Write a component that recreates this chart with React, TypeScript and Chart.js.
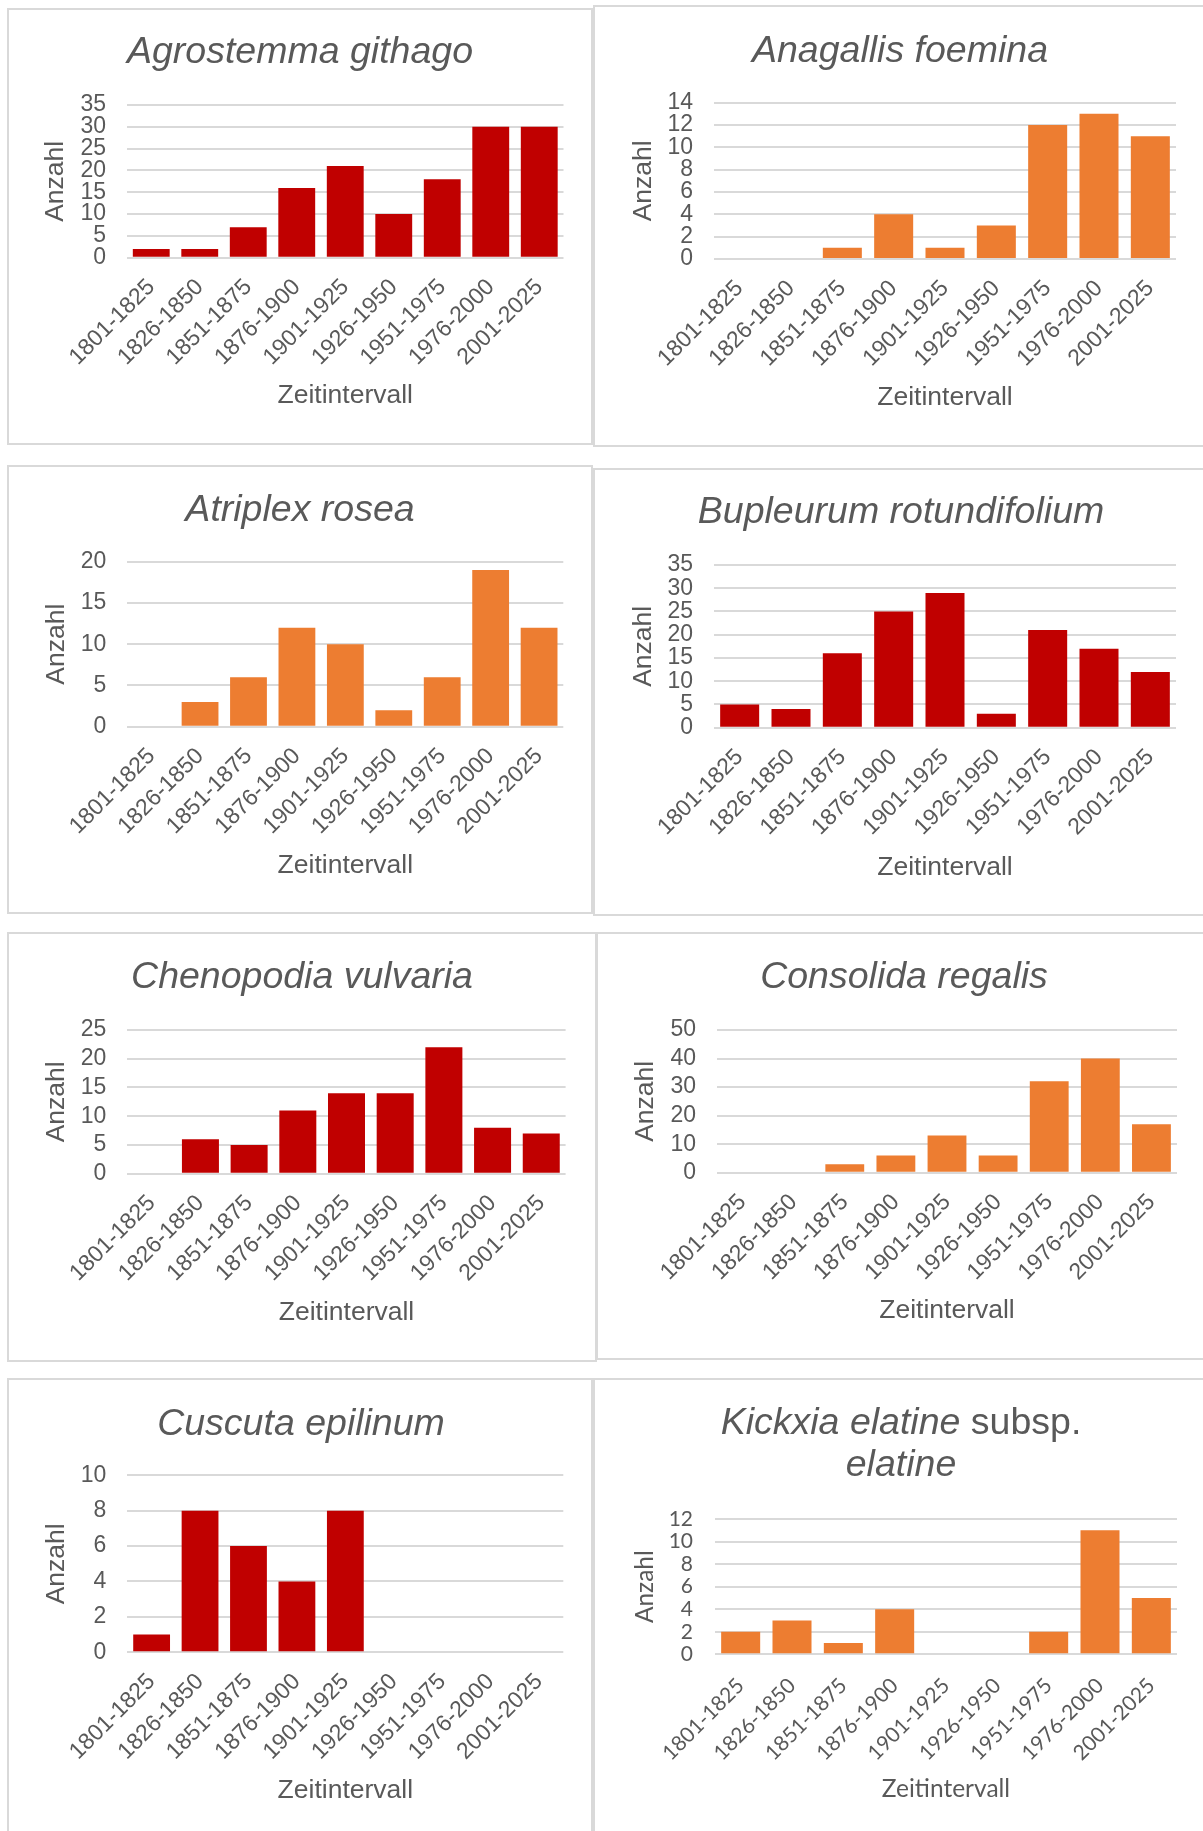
import React, { useEffect, useRef } from "react";
import { Chart, registerables } from "chart.js";

Chart.register(...registerables);

// ---------- data ----------
const CATEGORIES = [
  "1801-1825",
  "1826-1850",
  "1851-1875",
  "1876-1900",
  "1901-1925",
  "1926-1950",
  "1951-1975",
  "1976-2000",
  "2001-2025",
];

const AGROSTEMMA_GITHAGO = [2, 2, 7, 16, 21, 10, 18, 30, 30];
const ANAGALLIS_FOEMINA = [0, 0, 1, 4, 1, 3, 12, 13, 11];
const ATRIPLEX_ROSEA = [0, 3, 6, 12, 10, 2, 6, 19, 12];
const BUPLEURUM_ROTUNDIFOLIUM = [5, 4, 16, 25, 29, 3, 21, 17, 12];
const CHENOPODIA_VULVARIA = [0, 6, 5, 11, 14, 14, 22, 8, 7];
const CONSOLIDA_REGALIS = [0, 0, 3, 6, 13, 6, 32, 40, 17];
const CUSCUTA_EPILINUM = [1, 8, 6, 4, 8, 0, 0, 0, 0];
const KICKXIA_ELATINE = [2, 3, 1, 4, 0, 0, 2, 11, 5];

const Y_AXIS_TITLE = "Anzahl";
const X_AXIS_TITLE = "Zeitintervall";

// ---------- styles ----------
const RED = "#C00000";
const ORANGE = "#ED7D31";
const TEXT = "#595959";
const GRID = "#D9D9D9";
const BORDER = "#D9D9D9";
const ARIAL = "'Liberation Sans', Arial, sans-serif";
const CALIBRI_LIKE = "Lato, 'Liberation Sans', sans-serif";

type Seg = { text: string; italic: boolean };
type Spec = {
  titleLines: Seg[][];
  values: number[];
  color: string;
  yMax: number;
  yStep: number;
  box: { x: number; y: number; w: number; h: number };
  plot: { left: number; right: number; top: number; axis: number };
  titleX: number;
  titleBaselines: number[];
  zeitY: number;
  anzahlX: number;
  family: string;
  tickSize: number;
  axisSize: number;
  xPad: number;
  yPad: number;
};

const base = {
  family: ARIAL,
  tickSize: 23,
  axisSize: 26.5,
  xPad: 16,
  yPad: 21,
};

const SPECS: Spec[] = [
  {
    ...base,
    titleLines: [[{ text: "Agrostemma githago", italic: true }]],
    values: AGROSTEMMA_GITHAGO,
    color: RED,
    yMax: 35,
    yStep: 5,
    box: { x: 7, y: 8, w: 586, h: 437 },
    plot: { left: 127, right: 563.5, top: 105, axis: 257.7 },
    titleX: 300,
    titleBaselines: [63],
    zeitY: 396,
    anzahlX: 56,
  },
  {
    ...base,
    titleLines: [[{ text: "Anagallis foemina", italic: true }]],
    values: ANAGALLIS_FOEMINA,
    color: ORANGE,
    yMax: 14,
    yStep: 2,
    box: { x: 593, y: 5, w: 620, h: 442 },
    plot: { left: 714, right: 1176, top: 102.7, axis: 259 },
    titleX: 900,
    titleBaselines: [62],
    zeitY: 397.5,
    anzahlX: 644,
  },
  {
    ...base,
    titleLines: [[{ text: "Atriplex rosea", italic: true }]],
    values: ATRIPLEX_ROSEA,
    color: ORANGE,
    yMax: 20,
    yStep: 5,
    box: { x: 7, y: 465, w: 586, h: 449 },
    plot: { left: 127.4, right: 563.3, top: 561.7, axis: 726.7 },
    titleX: 300,
    titleBaselines: [521],
    zeitY: 866,
    anzahlX: 56.5,
  },
  {
    ...base,
    titleLines: [[{ text: "Bupleurum rotundifolium", italic: true }]],
    values: BUPLEURUM_ROTUNDIFOLIUM,
    color: RED,
    yMax: 35,
    yStep: 5,
    box: { x: 593, y: 468, w: 620, h: 448 },
    plot: { left: 714, right: 1176, top: 565, axis: 727.7 },
    titleX: 901,
    titleBaselines: [523],
    zeitY: 867.5,
    anzahlX: 644,
  },
  {
    ...base,
    titleLines: [[{ text: "Chenopodia vulvaria", italic: true }]],
    values: CHENOPODIA_VULVARIA,
    color: RED,
    yMax: 25,
    yStep: 5,
    box: { x: 7, y: 932, w: 590, h: 430 },
    plot: { left: 127.4, right: 565.6, top: 1030, axis: 1173.7 },
    titleX: 302,
    titleBaselines: [988],
    zeitY: 1312.5,
    anzahlX: 57,
  },
  {
    ...base,
    titleLines: [[{ text: "Consolida regalis", italic: true }]],
    values: CONSOLIDA_REGALIS,
    color: ORANGE,
    yMax: 50,
    yStep: 10,
    box: { x: 596, y: 932, w: 620, h: 428 },
    plot: { left: 717, right: 1177, top: 1030, axis: 1172.7 },
    titleX: 904,
    titleBaselines: [988],
    zeitY: 1311,
    anzahlX: 645.7,
  },
  {
    ...base,
    titleLines: [[{ text: "Cuscuta epilinum", italic: true }]],
    values: CUSCUTA_EPILINUM,
    color: RED,
    yMax: 10,
    yStep: 2,
    box: { x: 7, y: 1378, w: 586, h: 470 },
    plot: { left: 127.4, right: 563.3, top: 1475.3, axis: 1652.3 },
    titleX: 301,
    titleBaselines: [1435],
    zeitY: 1791,
    anzahlX: 56.5,
  },
  {
    ...base,
    family: CALIBRI_LIKE,
    tickSize: 21,
    axisSize: 24.5,
    xPad: 19,
    yPad: 22,
    titleLines: [
      [
        { text: "Kickxia elatine", italic: true },
        { text: " subsp.", italic: false },
      ],
      [{ text: "elatine", italic: true }],
    ],
    values: KICKXIA_ELATINE,
    color: ORANGE,
    yMax: 12,
    yStep: 2,
    box: { x: 593, y: 1378, w: 620, h: 470 },
    plot: { left: 715, right: 1177, top: 1519, axis: 1654.3 },
    titleX: 901,
    titleBaselines: [1434, 1476],
    zeitY: 1789,
    anzahlX: 644.7,
  },
];

const TITLE_SIZE = 37.5;

function Panel({ spec }: { spec: Spec }) {
  const ref = useRef<HTMLCanvasElement | null>(null);

  useEffect(() => {
    const canvas = ref.current;
    if (!canvas) return;
    const { box, plot } = spec;
    const lhA = spec.axisSize * 1.2;
    const padL = spec.anzahlX - box.x - lhA / 2;
    const yW = plot.left - box.x - padL;
    const padT = plot.top - box.y;
    const padR = box.x + box.w - plot.right;
    const xH = spec.zeitY + lhA / 2 - plot.axis;
    const padB = box.h - (plot.axis - box.y + xH);

    const titlePlugin = {
      id: "panelTitle",
      afterDraw(chart: any) {
        const ctx = chart.ctx as CanvasRenderingContext2D;
        ctx.save();
        ctx.fillStyle = TEXT;
        ctx.textBaseline = "alphabetic";
        ctx.textAlign = "left";
        spec.titleLines.forEach((segs, i) => {
          const fonts = segs.map(
            (s) => `${s.italic ? "italic " : ""}${TITLE_SIZE}px ${ARIAL}`
          );
          const widths = segs.map((s, j) => {
            ctx.font = fonts[j];
            return ctx.measureText(s.text).width;
          });
          const total = widths.reduce((a, b) => a + b, 0);
          let x = spec.titleX - box.x - total / 2;
          const y = spec.titleBaselines[i] - box.y;
          segs.forEach((s, j) => {
            ctx.font = fonts[j];
            ctx.fillText(s.text, x, y);
            x += widths[j];
          });
        });
        ctx.restore();
      },
    };

    const chart = new Chart(canvas, {
      type: "bar",
      data: {
        labels: CATEGORIES,
        datasets: [
          {
            data: spec.values,
            backgroundColor: spec.color,
            borderWidth: 0,
            barPercentage: 0.76,
            categoryPercentage: 1,
          },
        ],
      },
      plugins: [titlePlugin],
      options: {
        responsive: false,
        animation: false,
        devicePixelRatio: 1,
        layout: { padding: { left: padL, top: padT, right: padR, bottom: padB } },
        plugins: {
          legend: { display: false },
          tooltip: { enabled: false },
          title: { display: false },
        },
        scales: {
          x: {
            grid: { display: false, drawTicks: false },
            border: { display: false },
            ticks: {
              color: TEXT,
              font: { family: spec.family, size: spec.tickSize },
              minRotation: 45,
              maxRotation: 45,
              autoSkip: false,
              padding: spec.xPad,
            },
            title: {
              display: true,
              text: X_AXIS_TITLE,
              color: TEXT,
              font: { family: spec.family, size: spec.axisSize },
              padding: 0,
            },
            afterFit: (s: any) => {
              s.height = xH;
            },
          },
          y: {
            min: 0,
            max: spec.yMax,
            grid: { color: GRID, lineWidth: 2, drawTicks: false },
            border: { display: false },
            ticks: {
              stepSize: spec.yStep,
              autoSkip: false,
              color: TEXT,
              font: { family: spec.family, size: spec.tickSize },
              padding: spec.yPad,
            },
            title: {
              display: true,
              text: Y_AXIS_TITLE,
              color: TEXT,
              font: { family: spec.family, size: spec.axisSize },
              padding: 0,
            },
            afterFit: (s: any) => {
              s.width = yW;
            },
          },
        },
      } as any,
    });
    return () => chart.destroy();
  }, [spec]);

  const { box } = spec;
  return (
    <>
      <canvas
        ref={ref}
        width={box.w}
        height={box.h}
        style={{
          position: "absolute",
          left: box.x,
          top: box.y,
          width: box.w,
          height: box.h,
        }}
      />
      <div
        style={{
          position: "absolute",
          left: box.x,
          top: box.y,
          width: box.w,
          height: box.h,
          boxSizing: "border-box",
          border: `2px solid ${BORDER}`,
          pointerEvents: "none",
        }}
      />
    </>
  );
}

export default function App() {
  return (
    <div
      style={{
        position: "absolute",
        left: 0,
        top: 0,
        width: 1203,
        height: 1831,
        overflow: "hidden",
        background: "#ffffff",
      }}
    >
      {SPECS.map((s, i) => (
        <Panel key={i} spec={s} />
      ))}
    </div>
  );
}
